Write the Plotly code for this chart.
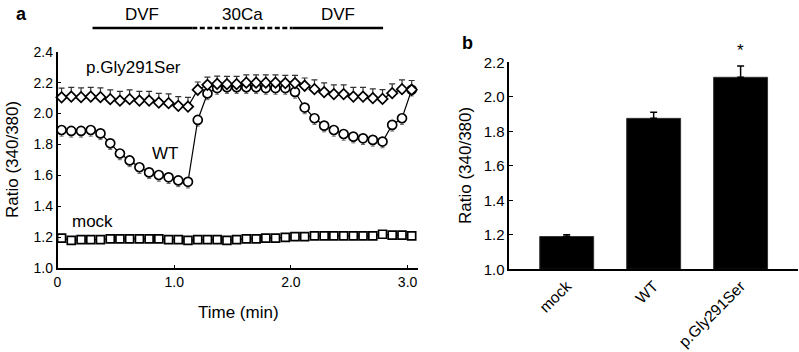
import plotly.graph_objects as go

# ---------------- data: panel a (time course) ----------------
time_min = [0.035, 0.118, 0.202, 0.285, 0.368, 0.452, 0.535, 0.618, 0.702, 0.785,
            0.868, 0.952, 1.035, 1.118, 1.202, 1.285, 1.368, 1.452, 1.535, 1.618,
            1.702, 1.785, 1.868, 1.952, 2.035, 2.118, 2.202, 2.285, 2.368, 2.452,
            2.535, 2.618, 2.702, 2.785, 2.868, 2.952, 3.035]

gly_ratio = [2.105, 2.11, 2.106, 2.11, 2.106, 2.093, 2.084, 2.093, 2.084, 2.084,
             2.071, 2.067, 2.05, 2.045, 2.154, 2.186, 2.192, 2.19, 2.19, 2.20,
             2.20, 2.20, 2.20, 2.197, 2.197, 2.18, 2.158, 2.139, 2.126, 2.126,
             2.11, 2.11, 2.10, 2.095, 2.132, 2.158, 2.154]
gly_err = [0.06] * 14 + [0.05] * 12 + [0.06] * 11

wt_ratio = [1.894, 1.888, 1.888, 1.894, 1.872, 1.808, 1.742, 1.697, 1.653, 1.620,
            1.603, 1.588, 1.568, 1.559, 1.959, 2.13, 2.165, 2.17, 2.17, 2.17,
            2.17, 2.165, 2.165, 2.165, 2.14, 2.039, 1.970, 1.922, 1.894, 1.868,
            1.851, 1.840, 1.830, 1.819, 1.927, 1.970, 2.154]
wt_err = [0.04] * 37

mock_ratio = [1.195, 1.18, 1.185, 1.185, 1.185, 1.19, 1.19, 1.19, 1.19, 1.19,
              1.19, 1.185, 1.185, 1.18, 1.185, 1.185, 1.185, 1.18, 1.185, 1.19,
              1.19, 1.195, 1.195, 1.20, 1.205, 1.205, 1.21, 1.21, 1.21, 1.21,
              1.21, 1.21, 1.21, 1.22, 1.215, 1.215, 1.21]

period_labels = ["DVF", "30Ca", "DVF"]
period_start = [0.30, 1.155, 2.015]
period_end = [1.155, 2.015, 2.79]
period_dash = ["solid", "5px,2.5px", "solid"]

a_yticks = [1.0, 1.2, 1.4, 1.6, 1.8, 2.0, 2.2, 2.4]
a_xticks = [0, 1, 2, 3]
a_xticklabels = ["0", "1.0", "2.0", "3.0"]

# ---------------- data: panel b (bar chart) ----------------
groups = ["mock", "WT", "p.Gly291Ser"]
bar_means = [1.19, 1.875, 2.113]
bar_errs = [0.01, 0.035, 0.065]
b_yticks = [1.0, 1.2, 1.4, 1.6, 1.8, 2.0, 2.2]

FONT = "Liberation Sans, Arial, sans-serif"
W, H = 799, 352

fig = go.Figure()

# panel a traces
fig.add_trace(go.Scatter(
    x=time_min, y=mock_ratio, mode="lines+markers",
    line=dict(color="black", width=1.2),
    marker=dict(symbol="square", size=8, color="white",
                line=dict(color="black", width=1.7)),
    cliponaxis=False, xaxis="x", yaxis="y", showlegend=False))

fig.add_trace(go.Scatter(
    x=time_min, y=wt_ratio, mode="lines+markers",
    line=dict(color="black", width=1.2),
    error_y=dict(type="data", array=[0] * 37, arrayminus=wt_err, symmetric=False,
                 color="#666666", thickness=1, width=2),
    marker=dict(symbol="circle", size=9, color="white",
                line=dict(color="black", width=1.7)),
    cliponaxis=False, xaxis="x", yaxis="y", showlegend=False))

fig.add_trace(go.Scatter(
    x=time_min, y=gly_ratio, mode="lines+markers",
    line=dict(color="black", width=1.2),
    error_y=dict(type="data", array=gly_err, arrayminus=[0] * 37, symmetric=False,
                 color="#333333", thickness=1.2, width=3),
    marker=dict(symbol="diamond", size=8, color="white",
                line=dict(color="black", width=1.7)),
    cliponaxis=False, xaxis="x", yaxis="y", showlegend=False))

# panel b
fig.add_trace(go.Bar(
    x=groups, y=[m - 1.0 for m in bar_means], base=1.0, width=0.62,
    marker=dict(color="black", line=dict(color="#333333", width=1)),
    error_y=dict(type="data", array=bar_errs, arrayminus=[0, 0, 0], symmetric=False,
                 color="black", thickness=1.5, width=3.5),
    xaxis="x2", yaxis="y2", showlegend=False))

axis_common = dict(showline=True, linecolor="black", linewidth=1.5, showgrid=False,
                   zeroline=False, ticks="inside", ticklen=4, tickwidth=1.2,
                   tickcolor="black", automargin=False,
                   tickfont=dict(family=FONT, size=14, color="black"))

fig.update_layout(
    width=W, height=H, margin=dict(l=0, r=0, t=0, b=0),
    paper_bgcolor="white", plot_bgcolor="white",
    font=dict(family=FONT, color="black"),
    xaxis=dict(domain=[57.5 / W, 418 / W], range=[0, (418 - 57.5) / 116.7],
               tickvals=a_xticks, ticktext=a_xticklabels, anchor="y", **axis_common),
    yaxis=dict(domain=[1 - 268.3 / H, 1 - 51.7 / H], range=[1.0, 2.4],
               tickvals=a_yticks, tickformat=".1f", anchor="x", **axis_common),
    xaxis2=dict(domain=[509.3 / W, 798 / W], range=[-0.66, 2.66], anchor="y2",
                showline=True, linecolor="black", linewidth=1.5, showgrid=False,
                zeroline=False, ticks="", tickangle=-45, automargin=False,
                tickfont=dict(family=FONT, size=15.5, color="black")),
    yaxis2=dict(domain=[1 - 269.3 / H, 1 - 62.3 / H], range=[1.0, 2.2],
                tickvals=b_yticks, tickformat=".1f", anchor="x2", **axis_common),
)
fig.update_layout(yaxis2=dict(tickfont=dict(size=15)))

TXT = dict(family=FONT, size=17, color="black")
annotations = []
# period bars at top of panel a
for lab, s, e, d in zip(period_labels, period_start, period_end, period_dash):
    fig.add_shape(type="line", xref="x", yref="paper", x0=s, x1=e,
                  y0=1 - 28 / H, y1=1 - 28 / H,
                  line=dict(color="black", width=2.5, dash=d))
    annotations.append(dict(x=(s + e) / 2, y=1 - 15 / H, xref="x", yref="paper",
                            text=lab, showarrow=False, xanchor="center",
                            yanchor="middle", font=TXT))

# series labels
for txt, xv, yv in [("p.Gly291Ser", 0.647, 2.30), ("WT", 0.92, 1.745), ("mock", 0.296, 1.30)]:
    annotations.append(dict(x=xv, y=yv, xref="x", yref="y", text=txt, showarrow=False,
                            xanchor="center", yanchor="middle", font=TXT))

# axis titles and panel letters
C = dict(xref="paper", yref="paper", showarrow=False, xanchor="center", yanchor="middle")
annotations += [
    dict(x=12 / W, y=1 - 160 / H, text="Ratio (340/380)", textangle=-90, font=TXT, **C),
    dict(x=238 / W, y=1 - 312 / H, text="Time (min)", font=TXT, **C),
    dict(x=465 / W, y=1 - 166 / H, text="Ratio (340/380)", textangle=-90, font=TXT, **C),
    dict(x=21 / W, y=1 - 14 / H, text="<b>a</b>", font=dict(family=FONT, size=18, color="black"), **C),
    dict(x=467 / W, y=1 - 43 / H, text="<b>b</b>", font=dict(family=FONT, size=18, color="black"), **C),
    dict(x=groups[2], y=bar_means[2] + bar_errs[2], xref="x2", yref="y2", text="*",
         yshift=16, showarrow=False, xanchor="center", yanchor="middle", font=TXT),
]
fig.update_layout(annotations=annotations)

fig.write_html("out.html", config={"displayModeBar": False},
               post_script="document.body.style.margin='0';")
